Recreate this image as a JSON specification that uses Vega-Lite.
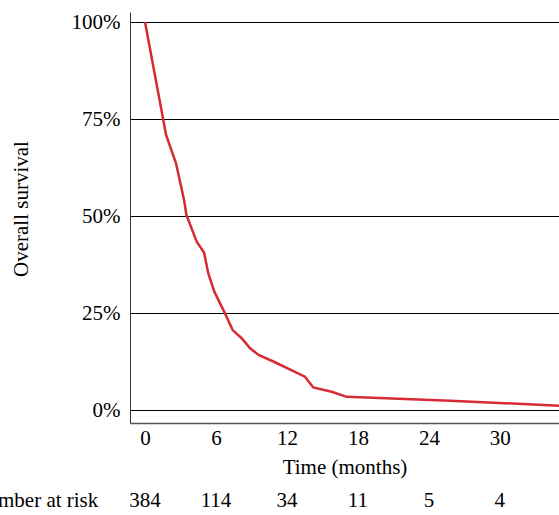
{
  "$schema": "https://vega.github.io/schema/vega-lite/v6.json",
  "width": 429,
  "height": 411,
  "autosize": {"type": "none"},
  "padding": {"left": 130, "top": 12, "right": 0, "bottom": 92},
  "background": "white",
  "config": {
    "view": {"stroke": null},
    "font": "Liberation Serif",
    "text": {"font": "Liberation Serif", "fontSize": 21, "color": "black"}
  },
  "datasets": {
    "km": [
      {"time": 0, "survival": 1.0},
      {"time": 1.78, "survival": 0.709},
      {"time": 2.62, "survival": 0.636},
      {"time": 3.3, "survival": 0.541},
      {"time": 3.5, "survival": 0.503},
      {"time": 4.37, "survival": 0.434},
      {"time": 4.99, "survival": 0.406},
      {"time": 5.35, "survival": 0.352},
      {"time": 5.86, "survival": 0.305},
      {"time": 6.76, "survival": 0.249},
      {"time": 7.41, "survival": 0.206},
      {"time": 8.17, "survival": 0.185},
      {"time": 8.88, "survival": 0.159},
      {"time": 9.6, "survival": 0.142},
      {"time": 10.85, "survival": 0.125},
      {"time": 13.52, "survival": 0.086},
      {"time": 14.23, "survival": 0.058},
      {"time": 15.78, "survival": 0.047},
      {"time": 17.05, "survival": 0.034},
      {"time": 25.8, "survival": 0.024},
      {"time": 35, "survival": 0.011}
    ],
    "risk": [
      {"time": 0, "n": "384"},
      {"time": 6, "n": "114"},
      {"time": 12, "n": "34"},
      {"time": 18, "n": "11"},
      {"time": 24, "n": "5"},
      {"time": 30, "n": "4"}
    ]
  },
  "layer": [
    {
      "data": {"name": "km"},
      "mark": {"type": "line", "color": "#d62b33", "strokeWidth": 2.5, "clip": true},
      "encoding": {
        "x": {
          "field": "time",
          "type": "quantitative",
          "scale": {"domain": [-1.27, 35], "nice": false, "zero": false},
          "axis": {
            "values": [0, 6, 12, 18, 24, 30],
            "ticks": false,
            "grid": false,
            "domainColor": "#555555",
            "domainWidth": 1.5,
            "labelFontSize": 21,
            "labelColor": "black",
            "labelPadding": 4,
            "title": "Time (months)",
            "titleFontSize": 21,
            "titleFontWeight": "normal",
            "titleColor": "black",
            "titlePadding": 8
          }
        },
        "y": {
          "field": "survival",
          "type": "quantitative",
          "scale": {"domain": [-0.0335, 1.0258], "nice": false, "zero": false},
          "axis": {
            "values": [0, 0.25, 0.5, 0.75, 1],
            "format": ".0%",
            "ticks": false,
            "grid": true,
            "gridColor": "black",
            "gridOpacity": 1,
            "domainColor": "#333333",
            "labelFontSize": 21,
            "labelColor": "black",
            "labelPadding": 10,
            "title": "Overall survival",
            "titleFontSize": 21,
            "titleFontWeight": "normal",
            "titleColor": "black",
            "titlePadding": 40,
            "titleY": 196.5
          }
        }
      }
    },
    {
      "data": {"name": "risk"},
      "mark": {"type": "text", "baseline": "middle", "align": "center"},
      "encoding": {
        "x": {"field": "time", "type": "quantitative"},
        "y": {"datum": -0.2345},
        "text": {"field": "n"}
      }
    },
    {
      "data": {"values": [{"label": "Number at risk"}]},
      "mark": {"type": "text", "baseline": "middle", "align": "right"},
      "encoding": {
        "x": {"datum": -3.95},
        "y": {"datum": -0.2345},
        "text": {"field": "label"}
      }
    }
  ]
}
